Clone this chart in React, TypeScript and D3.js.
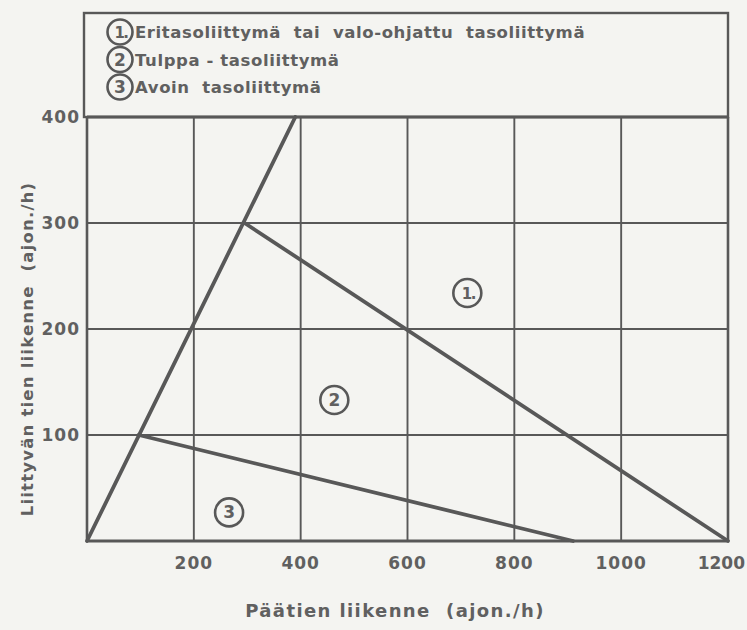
import React from 'react';
import * as d3 from 'd3';

// Päätien liikenne (x) vs. liittyvän tien liikenne (y), ajon./h
const xTicks = [200, 400, 600, 800, 1000, 1200];
const yTicks = [100, 200, 300, 400];
const xGrid = [0, 200, 400, 600, 800, 1000, 1200];
const yGrid = [0, 100, 200, 300, 400];

// boundary lines between the junction types
const lineOrigin: [number, number][] = [[0, 0], [390, 400]];
const lineType1: [number, number][] = [[295, 300], [1200, 0]];
const lineType3: [number, number][] = [[97, 100], [910, 0]];

const regionLabels = [
  {id: '1.', x: 712, y: 234},
  {id: '2', x: 463, y: 133},
  {id: '3', x: 266, y: 27},
];

const legendItems = [
  {id: '1.', text: 'Eritasoliittymä\u00a0 tai\u00a0 valo-ohjattu\u00a0 tasoliittymä'},
  {id: '2', text: 'Tulppa - tasoliittymä'},
  {id: '3', text: 'Avoin\u00a0 tasoliittymä'},
];

const W = 747;
const H = 630;
const ink = '#585858';
const textInk = '#606060';
const font = '"DejaVu Sans", "Liberation Sans", sans-serif';

export default function App() {
  const x = d3.scaleLinear().domain([0, 1200]).range([87, 728]);
  const y = d3.scaleLinear().domain([0, 400]).range([541, 117]);
  const line = d3
    .line<[number, number]>()
    .x((d) => x(d[0]))
    .y((d) => y(d[1]));

  const circled = (cx: number, cy: number, id: string, r: number, key: string) => (
    <g key={key}>
      <circle cx={cx} cy={cy} r={r} fill="none" stroke={ink} strokeWidth={2.6} />
      <text
        x={cx + (id.length > 1 ? 1 : 0)}
        y={cy + 6}
        textAnchor="middle"
        fontSize={id.length > 1 ? 15 : 17}
        letterSpacing={id.length > 1 ? -1.5 : 0}
        fontWeight="bold"
        fill={textInk}
        fontFamily={font}
      >
        {id}
      </text>
    </g>
  );

  return (
    <div style={{position: 'absolute', left: 0, top: 0}}>
      <svg width={W} height={H} style={{display: 'block'}}>
        <rect width={W} height={H} fill="#f4f4f1" />

        {/* legend box */}
        <rect x={84} y={13} width={x(1200) - 84} height={y(400) - 13} fill="none" stroke={ink} strokeWidth={2.4} />
        {legendItems.map((d, i) => (
          <g key={d.id}>
            {circled(120, 32 + i * 27.5, d.id, 12.5, 'l' + i)}
            <text
              x={135}
              y={38 + i * 27.5}
              fontSize={16.5}
              letterSpacing={0.6}
              fontWeight="bold"
              fill={textInk}
              fontFamily={font}
            >
              {d.text}
            </text>
          </g>
        ))}

        {/* grid */}
        {xGrid.map((v) => (
          <line key={'gx' + v} x1={x(v)} x2={x(v)} y1={y(0)} y2={y(400)} stroke={ink} strokeWidth={v === 0 || v === 1200 ? 2.6 : 1.9} />
        ))}
        {yGrid.map((v) => (
          <line key={'gy' + v} x1={x(0)} x2={x(1200)} y1={y(v)} y2={y(v)} stroke={ink} strokeWidth={v === 0 || v === 400 ? 2.8 : 1.9} />
        ))}

        {/* boundaries */}
        {[lineOrigin, lineType1, lineType3].map((pts, i) => (
          <path key={'b' + i} d={line(pts) || ''} fill="none" stroke={ink} strokeWidth={3.8} strokeLinecap="round" />
        ))}

        {regionLabels.map((d, i) => circled(x(d.x), y(d.y), d.id, 14, 'r' + i))}

        {/* tick labels */}
        {xTicks.map((v) => (
          <text
            key={'tx' + v}
            x={v === 1200 ? W - 2 : x(v)}
            y={569}
            textAnchor={v === 1200 ? 'end' : 'middle'}
            fontSize={17}
            letterSpacing={v === 1200 ? 0 : 1}
            fontWeight="bold"
            fill={textInk}
            fontFamily={font}
          >
            {v}
          </text>
        ))}
        {yTicks.map((v) => (
          <text key={'ty' + v} x={80} y={y(v) + 6} textAnchor="end" fontSize={17} letterSpacing={1} fontWeight="bold" fill={textInk} fontFamily={font}>
            {v}
          </text>
        ))}

        {/* axis titles */}
        <text x={395} y={617} textAnchor="middle" fontSize={18} letterSpacing={1.4} fontWeight="bold" fill={textInk} fontFamily={font}>
          {'Päätien liikenne\u00a0 (ajon./h)'}
        </text>
        <text
          transform={`translate(33,349) rotate(-90)`}
          textAnchor="middle"
          fontSize={16.5}
          letterSpacing={1.2}
          fontWeight="bold"
          fill={textInk}
          fontFamily={font}
        >
          {'Liittyvän tien liikenne\u00a0 (ajon./h)'}
        </text>
      </svg>
    </div>
  );
}
